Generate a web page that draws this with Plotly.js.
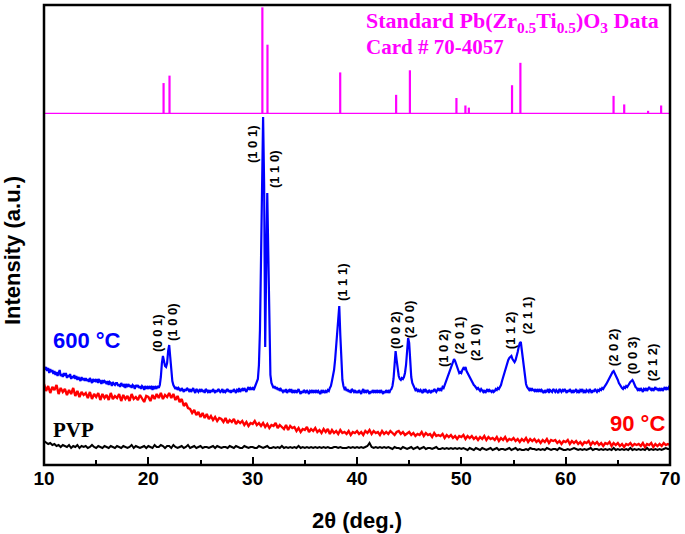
<!DOCTYPE html>
<html>
<head>
<meta charset="utf-8">
<script src="https://cdn.plot.ly/plotly-3.0.1.min.js"></script>
<style>html,body{margin:0;padding:0;background:#fff;}#chart{width:685px;height:534px;}</style>
</head>
<body>
<div id="chart"></div>
<script>
// ---- Standard PZT card #70-4057 (stick pattern) ----
const stickPos = [21.46, 22.03, 30.93, 31.42, 38.39, 43.75, 45.07, 49.53, 50.39, 50.72, 54.86, 55.66, 64.59, 65.61, 67.9, 69.15];
const stickInt = [29, 36, 100, 65, 39, 18, 41, 15, 8, 6, 27, 48, 17, 9, 3, 8];

// ---- 600 °C film, 2θ from 10.0 step 0.1 ----
const blueStart = 10, blueStep = 0.1;
const blue600 = [
99,95,98,94,97,92,96,93,95,91,
94,90,93,89,92,95,89,91,88,92,
89,92,87,90,88,91,86,89,87,90,
86,89,85,88,86,84,88,85,87,84,
87,84,86,83,87,85,82,86,84,85,
83,86,82,85,84,81,85,82,84,83,
81,84,80,83,82,79,83,81,80,82,
82,79,81,78,82,80,79,81,77,80,
79,81,78,80,77,80,79,76,80,78,
80,77,79,76,79,78,75,79,77,78,
76,79,77,78,75,79,76,78,77,79,
77,80,88,102,109,104,99,98,102,114,
120,108,92,84,80,78,76,78,75,77,
76,74,77,75,73,76,74,77,75,74,
76,73,75,77,74,72,76,74,73,75,
74,76,73,75,72,76,74,73,75,72,
75,73,76,74,72,75,73,76,74,73,
74,76,72,75,73,74,76,73,75,72,
75,73,76,74,72,75,74,77,73,75,
76,74,77,75,73,76,78,75,77,76,
77,75,78,79,82,86,100,135,205,290,
348,280,118,200,272,210,120,90,82,79,
77,79,76,78,75,77,74,76,75,73,
75,73,76,72,74,75,73,76,72,74,
73,75,72,74,76,73,71,74,72,75,
74,72,75,73,71,74,73,75,72,74,
73,75,72,74,73,71,75,73,74,72,
74,73,75,74,77,79,84,88,95,105,
118,135,152,159,130,100,85,79,76,77,
74,76,73,75,72,76,74,73,75,72,
74,72,75,73,71,74,76,72,74,73,
75,73,71,74,72,75,73,74,72,75,
73,74,72,75,73,71,74,72,75,73,
74,72,75,76,79,86,100,114,105,95,
89,86,85,87,86,88,92,100,115,127,
122,100,88,82,79,77,75,76,74,75,
73,75,74,72,76,73,75,74,72,75,
74,72,75,73,76,74,73,75,77,74,
76,75,78,77,80,82,85,88,91,94,
97,100,103,106,104,101,96,94,92,93,
92,95,97,96,98,94,92,89,87,85,
83,82,80,79,78,76,77,75,74,76,
74,73,75,72,74,76,73,75,74,73,
75,73,74,76,75,77,76,78,80,84,
88,91,95,99,102,105,107,108,109,106,
104,103,105,108,113,118,122,123,115,104,
94,86,81,78,76,75,77,74,76,75,
74,76,73,75,74,76,73,75,74,72,
75,73,74,76,72,75,74,73,76,74,
73,75,74,72,76,74,73,75,74,76,
74,72,75,73,76,74,72,75,73,74,
76,73,74,72,75,74,76,73,74,72,
75,74,73,76,74,72,75,73,76,74,
73,75,74,76,75,77,76,78,79,81,
83,85,87,90,92,93,94,92,90,87,
85,82,80,78,77,76,78,77,79,78,
80,81,83,84,85,83,80,78,77,75,
76,74,77,75,73,76,75,77,74,76,
78,76,75,77,74,76,78,75,77,74,
76,75,77,74,76,78,75,77,76,78,
77];

// ---- 90 °C film and PVP, 2θ from 10.0 step 0.2 ----
const lowStart = 10, lowStep = 0.2;
const red90 = [
81,74,79,72,78, 75,80,71,77,73, 76,70,75,71,77, 69,74,68,73,70, 72,67,73,66,71,
68,72,65,71,67, 70,65,72,66,69, 67,71,64,70,66, 69,64,71,66,68, 65,70,67,63,69,
68,64,70,66,71, 67,72,66,70,68, 72,67,71,65,69, 63,66,59,62,57, 56,52,55,50,53,
48,52,47,51,46, 49,45,48,44,47, 46,43,47,42,45, 43,46,41,44,42, 44,40,43,39,42,
41,44,40,42,39, 42,38,41,37,40, 39,42,37,40,38, 36,40,35,39,37, 38,34,37,33,36,
35,38,33,36,34, 37,33,35,32,36, 33,36,31,35,32, 34,31,35,32,33, 31,34,30,33,32,
34,31,33,30,34, 32,35,31,34,32, 33,30,34,31,33, 31,34,32,30,33, 34,31,33,30,32,
33,30,32,29,31, 30,33,29,32,30, 31,28,32,29,30, 29,31,27,30,28, 30,27,29,26,29,
28,30,26,29,27, 29,26,28,25,28, 26,29,25,28,26, 27,25,28,24,27, 25,28,24,26,25,
27,24,26,23,26, 24,27,23,26,24, 26,23,25,22,25, 23,26,22,25,24, 25,22,24,21,24,
23,25,21,24,22, 24,21,23,20,23, 22,24,20,23,21, 23,20,22,19,22, 21,23,19,22,20,
22,19,21,18,21, 20,22,19,21,20, 21,19,22,18,21, 20,22,18,21,19, 21,19,22,20,21,
20];
const pvp = [
24,22,21,22,20, 21,19,20,18,20, 19,18,20,17,19, 18,20,17,19,18, 19,17,18,20,18,
17,19,18,17,19, 18,17,19,18,17, 19,18,17,19,18, 17,18,20,17,19, 18,17,18,19,17,
19,18,17,20,18, 18,20,19,17,19, 19,17,20,18,17, 18,19,17,18,20, 17,18,19,17,18,
19,17,18,18,17, 18,19,17,19,18, 17,18,18,17,19, 18,17,19,18,17, 17,19,18,17,18,
18,17,17,19,18, 17,18,19,17,17, 18,17,18,17,19, 17,18,17,18,17, 18,17,19,17,18,
17,18,17,18,17, 18,17,18,17,18, 17,18,17,17,18, 18,17,18,17,17, 17,18,17,18,17,
18,17,18,17,18, 19,22,18,17,18, 17,18,17,18,17, 18,17,16,18,17, 17,16,18,17,16,
17,18,16,17,18, 16,17,18,16,17, 17,16,17,18,16, 16,17,16,17,16, 17,16,17,16,17,
16,17,16,15,17, 16,15,17,16,15, 17,16,15,16,17, 15,16,17,15,16, 16,15,16,17,15,
16,17,15,16,15, 15,16,15,17,16, 16,15,16,15,16, 15,17,16,15,16, 16,15,17,16,15,
15,16,15,16,17, 16,15,16,15,16, 15,16,17,15,16, 16,15,16,15,16, 15,16,15,17,15,
16,15,16,15,16, 15,17,15,16,15, 16,15,16,15,17, 15,16,15,16,15, 16,15,16,17,16,
16];

// ---- Miller index labels ----
const millerLabels = ['(0 0 1)','(1 0 0)','(1 0 1)','(1 1 0)','(1 1 1)','(0 0 2)','(2 0 0)','(1 0 2)','(2 0 1)','(2 1 0)','(1 1 2)','(2 1 1)','(2 0 2)','(0 0 3)','(2 1 2)'];
const millerX = [20.83,22.27,29.94,32.05,38.57,43.65,45.0,48.25,49.79,51.32,54.68,56.31,64.55,66.38,68.29];
const millerY = [132,143,321,296,183,135,146,117,130,123,135,150,118,110,103];

const xTicks = [10,20,30,40,50,60,70];

const SANS = 'Liberation Sans, Arial, Helvetica, sans-serif';
const SERIF = 'Liberation Serif, Times New Roman, serif';

// stick pattern as vertical line segments built from the card arrays
const stickX = [], stickY = [];
stickPos.forEach((p,i)=>{ stickX.push(p,p,null); stickY.push(0,stickInt[i],null); });

const traces = [
  {type:'scatter', mode:'lines', x0: lowStart, dx: lowStep, y: pvp, line:{color:'#000000', width:2}, xaxis:'x', yaxis:'y', hoverinfo:'skip'},
  {type:'scatter', mode:'lines', x0: lowStart, dx: lowStep, y: red90, line:{color:'#FF0000', width:2.4}, xaxis:'x', yaxis:'y', hoverinfo:'skip'},
  {type:'scatter', mode:'lines', x0: blueStart, dx: blueStep, y: blue600, line:{color:'#0000FF', width:2.2}, xaxis:'x', yaxis:'y', hoverinfo:'skip'},
  {type:'scatter', mode:'lines', x: stickX, y: stickY, connectgaps:false, line:{color:'#FF00FF', width:2.2}, xaxis:'x', yaxis:'y2', hoverinfo:'skip'}
];

const annotations = millerLabels.map((t,i)=>({
  text: t, x: millerX[i], y: millerY[i], xref:'x', yref:'y', showarrow:false, textangle:-90,
  xanchor:'center', yanchor:'middle', font:{family:SANS, size:13, weight:'bold', color:'#000'}
}));

annotations.push(
  {text:'600 °C', x:14.12, y:125, xref:'x', yref:'y', showarrow:false, xanchor:'center', yanchor:'middle',
   font:{family:SANS, size:22, weight:'bold', color:'#0000FF'}},
  {text:'90 °C', x:69.75, y:42, xref:'x', yref:'y', showarrow:false, xanchor:'right', yanchor:'middle',
   font:{family:SANS, size:22, weight:'bold', color:'#FF0000'}},
  {text:'PVP', x:12.78, y:35, xref:'x', yref:'y', showarrow:false, xanchor:'center', yanchor:'middle',
   font:{family:SERIF, size:21, weight:'bold', color:'#000'}},
  {text:'Standard Pb(Zr<sub>0.5</sub>Ti<sub>0.5</sub>)O<sub>3</sub> Data', x:0.511, y:0.962, xref:'paper', yref:'paper',
   showarrow:false, xanchor:'left', yanchor:'middle', font:{family:SERIF, size:22, weight:'bold', color:'#FF00FF'}},
  {text:'Card # 70-4057', x:0.511, y:0.908, xref:'paper', yref:'paper',
   showarrow:false, xanchor:'left', yanchor:'middle', font:{family:SERIF, size:21, weight:'bold', color:'#FF00FF'}},
  {text:'Intensity (a.u.)', x:0, y:0.465, xref:'paper', yref:'paper', xshift:-32, showarrow:false, textangle:-90,
   xanchor:'center', yanchor:'middle', font:{family:SANS, size:22, weight:'bold', color:'#000'}}
);

const layout = {
  width:685, height:534,
  margin:{l:44, r:15, t:5, b:69, pad:0},
  paper_bgcolor:'#fff', plot_bgcolor:'#fff',
  showlegend:false,
  xaxis:{range:[10,70], tickvals:xTicks, ticks:'inside', ticklen:8, tickwidth:2, tickcolor:'#000',
    minor:{dtick:5, tick0:5, ticks:'inside', ticklen:5, tickwidth:2, tickcolor:'#000', showgrid:false},
    showgrid:false, zeroline:false, showline:false,
    tickfont:{family:SANS, size:19, weight:'bold', color:'#000'},
    title:{text:'2θ (deg.)', font:{family:SANS, size:22, weight:'bold', color:'#000'}, standoff:24}},
  yaxis:{domain:[0,0.763], range:[0,351], showticklabels:false, ticks:'', showgrid:false, zeroline:false, showline:false},
  yaxis2:{domain:[0.763,1], range:[0,102.2], anchor:'x', showticklabels:false, ticks:'', showgrid:false, zeroline:false, showline:false},
  shapes:[
    {type:'line', xref:'paper', yref:'y2', x0:0, x1:1, y0:0, y1:0, line:{color:'#FF00FF', width:2.5}},
    {type:'rect', xref:'paper', yref:'paper', x0:0, x1:1, y0:0, y1:1, line:{color:'#000', width:2.5}}
  ],
  annotations: annotations
};

Plotly.newPlot('chart', traces, layout, {displayModeBar:false, staticPlot:true});
</script>
</body>
</html>
